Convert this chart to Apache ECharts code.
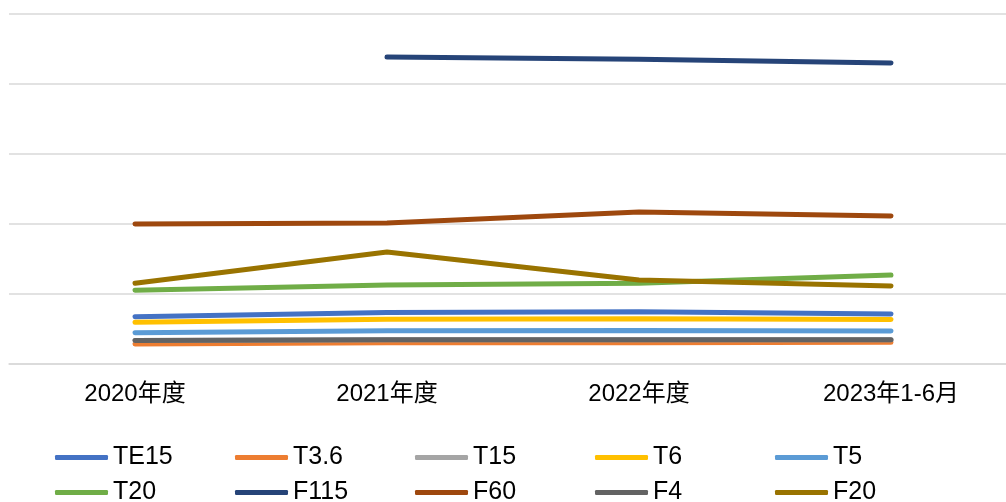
<!DOCTYPE html>
<html>
<head>
<meta charset="utf-8">
<script src="https://cdn.jsdelivr.net/npm/echarts@6/dist/echarts.min.js"></script>
<style>
  html, body { margin: 0; padding: 0; background: #fff; }
  #main { width: 1006px; height: 502px; }
</style>
</head>
<body>
<div id="main"></div>
<script>
var categories = ['2020年度', '2021年度', '2022年度', '2023年1-6月'];
var seriesNames = ['TE15', 'T3.6', 'T15', 'T6', 'T5', 'T20', 'F115', 'F60', 'F4', 'F20'];
var colors = ['#4472C4', '#ED7D31', '#A5A5A5', '#FFC000', '#5B9BD5', '#70AD47', '#264478', '#9E480E', '#636363', '#997300'];

var te15 = [13.5, 14.7, 14.9, 14.3];
var t36 = [5.7, 6.1, 6.1, 6.2];
var t15 = [6.7, 6.9, 6.9, 6.9];
var t6 = [11.9, 12.8, 12.9, 12.7];
var t5 = [8.9, 9.5, 9.6, 9.4];
var t20 = [21.1, 22.6, 23.1, 25.4];
var f115 = [null, 87.7, 87.1, 86.0];
var f60 = [40.0, 40.3, 43.4, 42.3];
var f4 = [6.7, 6.9, 6.9, 6.9];
var f20 = [23.1, 32.0, 24.0, 22.3];

var values = [te15, t36, t15, t6, t5, t20, f115, f60, f4, f20];

var chart = echarts.init(document.getElementById('main'));

var series = [];
for (var i = 0; i < seriesNames.length; i++) {
  series.push({
    name: seriesNames[i],
    type: 'line',
    data: values[i],
    symbol: 'none',
    showSymbol: false,
    connectNulls: false,
    lineStyle: { width: 5, color: colors[i], cap: 'round' },
    itemStyle: { color: colors[i] }
  });
}

var option = {
  animation: false,
  color: colors,
  grid: { left: 9, top: 14, width: 1008, height: 350, outerBoundsMode: 'none', containLabel: false },
  xAxis: {
    type: 'category',
    data: categories,
    boundaryGap: true,
    axisLine: { lineStyle: { color: '#d9d9d9', width: 1.5 } },
    axisTick: { show: false },
    axisLabel: {
      color: '#000',
      fontSize: 24,
      fontFamily: 'Liberation Sans, Noto Sans CJK SC, sans-serif',
      margin: 18
    }
  },
  yAxis: {
    type: 'value',
    min: 0,
    max: 100,
    interval: 20,
    axisLabel: { show: false },
    axisLine: { show: false },
    axisTick: { show: false },
    splitLine: { lineStyle: { color: '#d9d9d9', width: 1.5 } }
  },
  legend: {
    left: 55,
    top: 445,
    width: 895,
    padding: 0,
    orient: 'horizontal',
    icon: 'roundRect',
    itemWidth: 53,
    itemHeight: 5,
    itemGap: 10,
    textStyle: {
      color: '#000',
      fontSize: 25,
      fontFamily: 'Liberation Sans, sans-serif',
      width: 112,
      lineHeight: 24
    },
    data: seriesNames
  },
  series: series
};

chart.setOption(option);
</script>
</body>
</html>
